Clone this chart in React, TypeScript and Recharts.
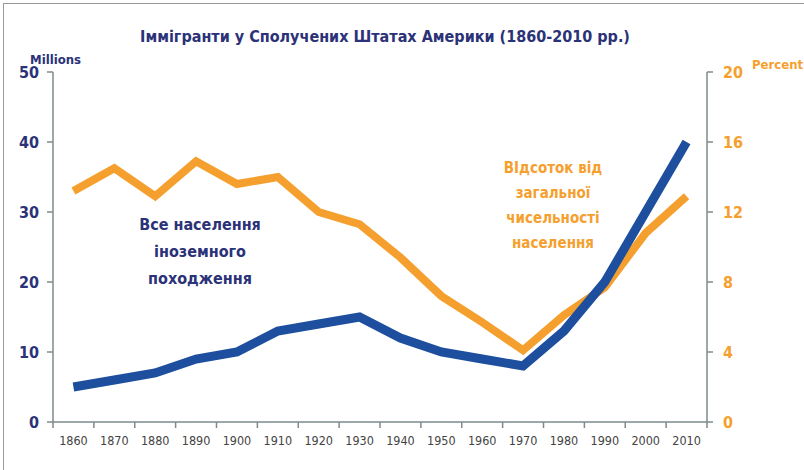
import React from 'react';
import { LineChart, Line, XAxis, YAxis } from 'recharts';

const years = ['1860', '1870', '1880', '1890', '1900', '1910', '1920', '1930', '1940', '1950', '1960', '1970', '1980', '1990', '2000', '2010'];
const foreignBornMillions = [5, 6, 7, 9, 10, 13, 14, 15, 12, 10, 9, 8, 13, 20, 30, 40];
const percentOfPopulation = [13.2, 14.5, 12.9, 14.9, 13.6, 14, 12, 11.3, 9.4, 7.2, 5.7, 4.1, 6.1, 7.7, 10.8, 12.9];
const leftTicks = [0, 10, 20, 30, 40, 50];
const rightTicks = [0, 4, 8, 12, 16, 20];

const data = years.map((year, i) => ({
  year,
  millions: foreignBornMillions[i],
  percent: percentOfPopulation[i],
}));

const FONT = "'Liberation Sans Narrow', 'DejaVu Sans Condensed', 'Liberation Sans', sans-serif";
const NAVY = '#2b3278';
const BLUE = '#1d4f9e';
const ORANGE = '#f5a02e';
const AXIS = '#7c8b8b';

const W = 804;
const H = 470;
const LEFT = 53;
const RIGHT = 97;
const TOP = 72;
const BOTTOM = 48;
const BAND = (W - LEFT - RIGHT) / years.length;

function YearTick(props: any) {
  const { x, y, payload, index } = props;
  const last = index === years.length - 1;
  return (
    <g>
      <line x1={x - BAND / 2} x2={x - BAND / 2} y1={y - 8} y2={y - 2} stroke={AXIS} strokeWidth={1.5} />
      {last && <line x1={x + BAND / 2} x2={x + BAND / 2} y1={y - 8} y2={y - 2} stroke={AXIS} strokeWidth={1.5} />}
      <text x={x} y={y + 15} textAnchor="middle" fill="#444" fontSize={12.5} fontFamily={FONT}>
        {payload.value}
      </text>
    </g>
  );
}

export default function App() {
  return (
    <div style={{ position: 'absolute', left: 0, top: 0, width: W, height: H, background: '#fff', fontFamily: FONT }}>
      <div style={{ position: 'absolute', left: 3, top: 3, width: W, height: H, borderLeft: '1.5px solid #999', borderTop: '1.5px solid #999' }} />
      <LineChart width={W} height={H} data={data} margin={{ top: TOP, right: 0, bottom: 0, left: 0 }}>
        <XAxis
          dataKey="year"
          scale="band"
          height={BOTTOM}
          stroke={AXIS}
          strokeWidth={1.5}
          tickLine={false}
          tick={<YearTick />}
          interval={0}
        />
        <YAxis
          yAxisId="left"
          width={LEFT}
          domain={[0, 50]}
          ticks={leftTicks}
          stroke={AXIS}
          strokeWidth={1.5}
          tickSize={6}
          tickMargin={8}
          tick={{ fill: NAVY, fontSize: 16, fontWeight: 'bold', fontFamily: FONT }}
        />
        <YAxis
          yAxisId="right"
          orientation="right"
          width={RIGHT}
          domain={[0, 20]}
          ticks={rightTicks}
          stroke={AXIS}
          strokeWidth={1.5}
          tickSize={6}
          tickMargin={10}
          tick={{ fill: ORANGE, fontSize: 16, fontWeight: 'bold', fontFamily: FONT, textAnchor: 'start' }}
        />
        <Line
          yAxisId="right"
          dataKey="percent"
          stroke={ORANGE}
          strokeWidth={8}
          dot={false}
          strokeLinejoin="miter"
          isAnimationActive={false}
        />
        <Line
          yAxisId="left"
          dataKey="millions"
          stroke={BLUE}
          strokeWidth={9}
          dot={false}
          strokeLinejoin="miter"
          isAnimationActive={false}
        />
      </LineChart>
      <div style={{ position: 'absolute', left: 0, width: 770, top: 27, textAlign: 'center', color: NAVY, fontWeight: 'bold', fontSize: 16 }}>
        Іммігранти у Сполучених Штатах Америки (1860-2010 рр.)
      </div>
      <div style={{ position: 'absolute', left: 30, top: 52, color: NAVY, fontWeight: 'bold', fontSize: 13 }}>Millions</div>
      <div style={{ position: 'absolute', left: 752, top: 57, color: ORANGE, fontWeight: 'bold', fontSize: 13 }}>Percent</div>
      <div style={{ position: 'absolute', left: 100, width: 200, top: 211, textAlign: 'center', color: NAVY, fontWeight: 'bold', fontSize: 16, lineHeight: '27px' }}>
        Все населення<br />іноземного<br />походження
      </div>
      <div style={{ position: 'absolute', left: 453, width: 200, top: 156, textAlign: 'center', color: ORANGE, fontWeight: 'bold', fontSize: 15, lineHeight: '25px' }}>
        ВІдсоток від<br />загальної<br />чисельності<br />населення
      </div>
    </div>
  );
}
